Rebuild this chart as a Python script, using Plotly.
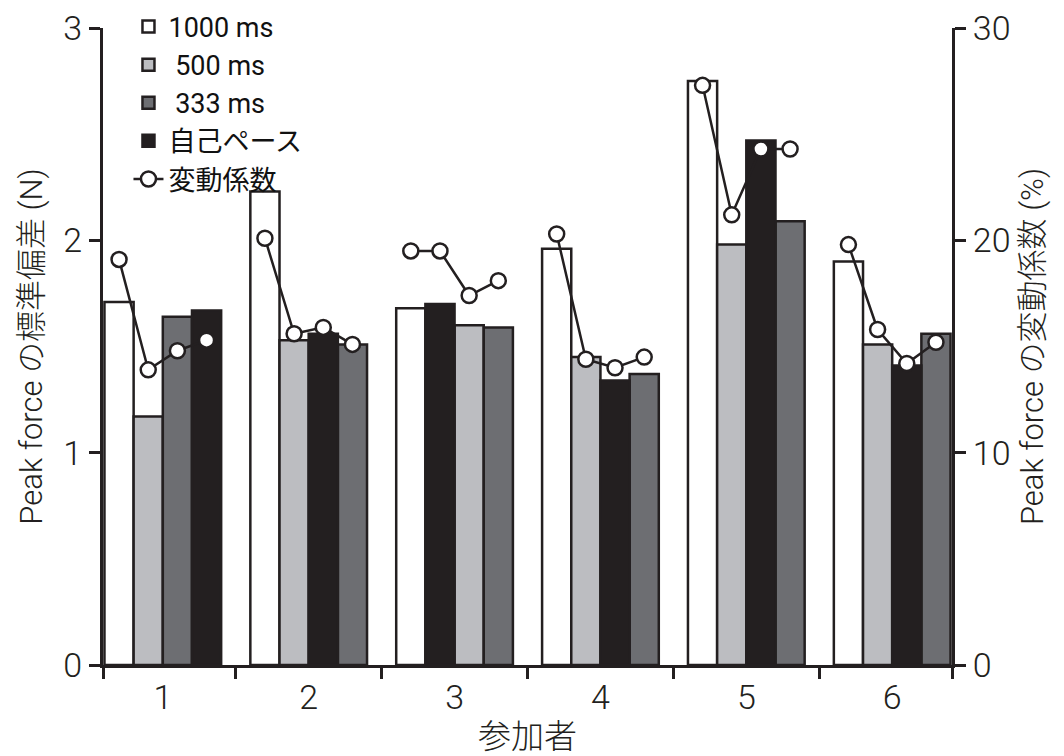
import plotly.graph_objects as go

participants = [1, 2, 3, 4, 5, 6]
conditions = ["1000", "500", "333", "self"]
legend_names = {"1000": "1000 ms", "500": "\u00a0500 ms", "333": "\u00a0333 ms", "self": "自己ペース"}

# Peak force standard deviation (N)
sd_1000 = [1.71, 2.23, 1.68, 1.96, 2.75, 1.90]
sd_500 = [1.17, 1.53, 1.60, 1.45, 1.98, 1.51]
sd_333 = [1.64, 1.51, 1.59, 1.37, 2.09, 1.56]
sd_self = [1.67, 1.56, 1.70, 1.34, 2.47, 1.41]

# Peak force coefficient of variation (%)
cv_1000 = [19.1, 20.1, 19.5, 20.3, 27.3, 19.8]
cv_500 = [13.9, 15.6, 17.4, 14.4, 21.2, 15.8]
cv_333 = [14.8, 15.1, 18.1, 14.5, 24.3, 15.2]
cv_self = [15.3, 15.9, 19.5, 14.0, 24.3, 14.2]

# Bar order within each participant group (as in the figure)
slot_order = [
    ["1000", "500", "333", "self"],
    ["1000", "500", "self", "333"],
    ["1000", "self", "500", "333"],
    ["1000", "500", "self", "333"],
    ["1000", "500", "self", "333"],
    ["1000", "500", "self", "333"],
]

sd = {"1000": sd_1000, "500": sd_500, "333": sd_333, "self": sd_self}
cv = {"1000": cv_1000, "500": cv_500, "333": cv_333, "self": cv_self}
colors = {"1000": "#ffffff", "500": "#bcbdc1", "333": "#6d6e72", "self": "#231f20"}

slot_offsets = [-0.3, -0.1, 0.1, 0.3]
bar_w = 0.2
ink = "#231f20"

def xpos(cond, i):
    return participants[i] + slot_offsets[slot_order[i].index(cond)]

fig = go.Figure()
for c in conditions:
    fig.add_trace(go.Bar(
        x=[xpos(c, i) for i in range(len(participants))],
        y=sd[c],
        width=bar_w,
        name=legend_names[c],
        marker=dict(color=colors[c], line=dict(color=ink, width=2.5)),
        yaxis="y",
    ))

lx, ly = [], []
for i, p in enumerate(participants):
    for c in slot_order[i]:
        lx.append(xpos(c, i))
        ly.append(cv[c][i])
    lx.append(None)
    ly.append(None)

fig.add_trace(go.Scatter(
    x=lx, y=ly, yaxis="y2", name="変動係数",
    mode="lines+markers",
    line=dict(color=ink, width=2.5),
    marker=dict(symbol="circle", size=15, color="white", line=dict(color=ink, width=2.5)),
    connectgaps=False,
))

font_family = "Roboto, 'Noto Sans CJK JP', sans-serif"

fig.update_layout(
    width=1064, height=756,
    margin=dict(l=103, r=112, t=28, b=91, autoexpand=False),
    plot_bgcolor="white", paper_bgcolor="white",
    barmode="overlay",
    font=dict(family=font_family, size=28, color=ink, weight=300),
    showlegend=True,
    legend=dict(x=0.03, y=1.04, xanchor="left", yanchor="top",
                bgcolor="rgba(0,0,0,0)", font=dict(size=27, family=font_family, weight=400, color="#111"),
                tracegroupgap=0, itemwidth=30),
    xaxis=dict(
        range=[0.59, 6.41],
        tickmode="array", tickvals=participants, ticktext=[str(p) for p in participants],
        ticks="", showline=True, linecolor=ink, linewidth=3,
        tickfont=dict(size=34), showgrid=False, zeroline=False,
        title=dict(text="参加者", font=dict(size=33), standoff=10),
        minor=dict(tickmode="array", tickvals=[0.59, 1.5, 2.5, 3.5, 4.5, 5.5, 6.41],
                   ticks="outside", ticklen=11, tickwidth=2.5, tickcolor=ink, showgrid=False),
    ),
    yaxis=dict(
        range=[0, 3], tickvals=[0, 1, 2, 3], ticks="outside", ticklen=11, tickwidth=2.5,
        tickcolor=ink, showline=True, linecolor=ink, linewidth=3,
        showgrid=False, zeroline=False, tickfont=dict(size=34),
        title=dict(text="Peak force の標準偏差 (N)", font=dict(size=31), standoff=12),
    ),
    yaxis2=dict(
        range=[0, 30], tickvals=[0, 10, 20, 30], ticks="outside", ticklen=11, tickwidth=2.5,
        tickcolor=ink, showline=True, linecolor=ink, linewidth=3,
        overlaying="y", side="right", anchor="x",
        showgrid=False, zeroline=False, tickfont=dict(size=34),
        title=dict(text="Peak force の変動係数 (%)", font=dict(size=31), standoff=12),
    ),
)

fig.write_html("out.html")
